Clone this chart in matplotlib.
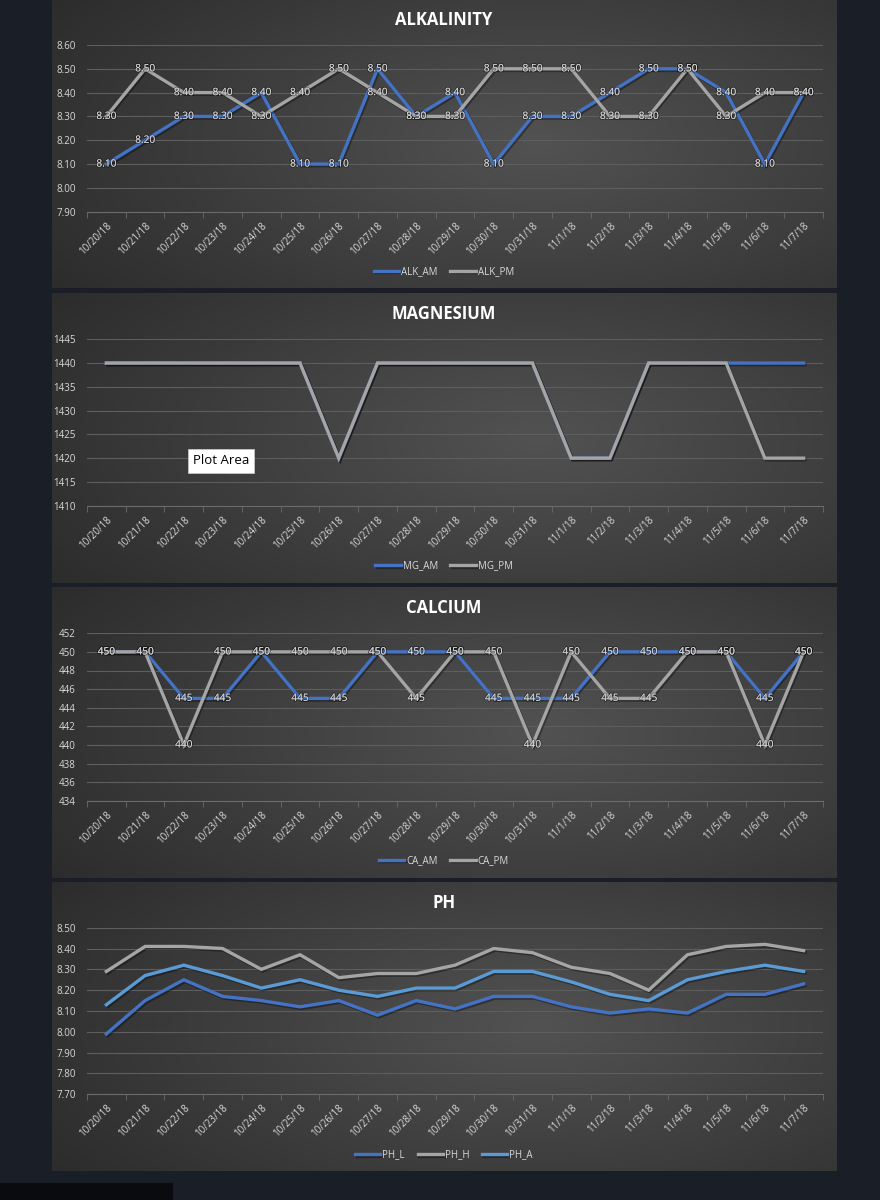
#!/usr/bin/env python3

import numpy as np
import matplotlib
matplotlib.use('Agg')

import matplotlib.pyplot as plt
import matplotlib.patheffects as pe
from matplotlib.patches import Rectangle

plt.rcParams['font.family'] = ['Open Sans', 'DejaVu Sans']

dates = ['10/20/18', '10/21/18', '10/22/18', '10/23/18', '10/24/18', '10/25/18',
         '10/26/18', '10/27/18', '10/28/18', '10/29/18', '10/30/18', '10/31/18',
         '11/1/18', '11/2/18', '11/3/18', '11/4/18', '11/5/18', '11/6/18', '11/7/18']

alk_am = [8.10, 8.20, 8.30, 8.30, 8.40, 8.10, 8.10, 8.50, 8.30, 8.40,
          8.10, 8.30, 8.30, 8.40, 8.50, 8.50, 8.40, 8.10, 8.40]
alk_pm = [8.30, 8.50, 8.40, 8.40, 8.30, 8.40, 8.50, 8.40, 8.30, 8.30,
          8.50, 8.50, 8.50, 8.30, 8.30, 8.50, 8.30, 8.40, 8.40]

mg_am = [1440, 1440, 1440, 1440, 1440, 1440, 1420, 1440, 1440, 1440,
         1440, 1440, 1420, 1420, 1440, 1440, 1440, 1440, 1440]
mg_pm = [1440, 1440, 1440, 1440, 1440, 1440, 1420, 1440, 1440, 1440,
         1440, 1440, 1420, 1420, 1440, 1440, 1440, 1420, 1420]

ca_am = [450, 450, 445, 445, 450, 445, 445, 450, 450, 450,
         445, 445, 445, 450, 450, 450, 450, 445, 450]
ca_pm = [450, 450, 440, 450, 450, 450, 450, 450, 445, 450,
         450, 440, 450, 445, 445, 450, 450, 440, 450]

ph_l = [7.99, 8.15, 8.25, 8.17, 8.15, 8.12, 8.15, 8.08, 8.15, 8.11,
        8.17, 8.17, 8.12, 8.09, 8.11, 8.09, 8.18, 8.18, 8.23]
ph_h = [8.29, 8.41, 8.41, 8.40, 8.30, 8.37, 8.26, 8.28, 8.28, 8.32,
        8.40, 8.38, 8.31, 8.28, 8.20, 8.37, 8.41, 8.42, 8.39]
ph_a = [8.13, 8.27, 8.32, 8.27, 8.21, 8.25, 8.20, 8.17, 8.21, 8.21,
        8.29, 8.29, 8.24, 8.18, 8.15, 8.25, 8.29, 8.32, 8.29]

BLUE = '#4472c4'
GRAY = '#a5a5a5'
LBLUE = '#5b9bd5'
TXT = '#d9d9d9'

W, H = 880, 1200


def rect(x0, y0, x1, y1):
    return [x0 / W, 1 - y1 / H, (x1 - x0) / W, (y1 - y0) / H]


def panel_bg(fig, y0, y1):
    ax = fig.add_axes(rect(52, y0, 836, y1), zorder=0)
    yy, xx = np.mgrid[0:1:120j, 0:1:240j]
    r = np.sqrt(((xx - 0.62) / 0.8) ** 2 + ((yy - 0.5) / 1.0) ** 2)
    v = (0x52 - (0x52 - 0x29) * np.clip(r, 0, 1)) / 255
    ax.imshow(np.dstack([v, v, v]), aspect='auto', extent=[0, 1, 0, 1],
              interpolation='bilinear')
    ax.axis('off')


def chart(fig, box, title, title_y, legend_y, series, ylim, ystep, yfmt, labfmt=None):
    ax = fig.add_axes(rect(*box), zorder=2)
    ax.patch.set_alpha(0)
    x = np.arange(len(dates))
    shadow = [pe.SimpleLineShadow(offset=(1.0, -1.2), shadow_color='black', alpha=0.35),
              pe.Normal()]
    handles = []
    for name, vals, col in series:
        ln, = ax.plot(x, vals, color=col, lw=2.4, label=name,
                      solid_joinstyle='miter', path_effects=shadow)
        handles.append(ln)
    if labfmt:
        for name, vals, col in series:
            for xi, v in zip(x, vals):
                ax.text(xi, v, labfmt % v, ha='center', va='center', fontsize=7.3,
                        color=TXT, zorder=5,
                        path_effects=[pe.withStroke(linewidth=1.5, foreground=(0, 0, 0, 0.3))])
    ax.set_xlim(-0.5, len(dates) - 0.5)
    ax.set_ylim(*ylim)
    yt = np.arange(ylim[0], ylim[1] + ystep / 2, ystep)
    ax.set_yticks(yt)
    ax.set_yticklabels([yfmt % t for t in yt])
    ax.set_xticks(x)
    ax.set_xticklabels(dates, rotation=45, ha='right', va='top', rotation_mode='anchor')
    ax.set_xticks(np.arange(-0.5, len(dates)), minor=True)
    ax.tick_params(axis='both', which='major', length=0, colors=TXT, labelsize=7)
    ax.tick_params(axis='x', which='major', pad=6)
    ax.tick_params(axis='y', which='major', pad=8)
    ax.tick_params(axis='x', which='minor', length=4, color='#6b6b6b')
    for s in ['top', 'right', 'left']:
        ax.spines[s].set_visible(False)
    ax.spines['bottom'].set_color('#6b6b6b')
    ax.yaxis.grid(True, color='#5e5e5e', lw=0.8)
    ax.set_axisbelow(True)
    fig.text(444 / W, 1 - title_y / H, title, ha='center', va='center',
             fontsize=12, fontweight='bold', color='white')
    fig.legend(handles=handles, loc='center', bbox_to_anchor=(444 / W, 1 - legend_y / H),
               ncol=len(handles), frameon=False, fontsize=7, labelcolor=TXT,
               handlelength=2.6, handletextpad=0.2, columnspacing=1.3)
    return ax


def main():
    fig = plt.figure(figsize=(8.8, 12), dpi=100)
    fig.patch.set_facecolor('#1a1e26')

    for y0, y1 in [(0, 288), (293, 583), (587, 878), (882, 1171)]:
        panel_bg(fig, y0, y1)

    fig.patches.append(Rectangle((0, 0), 173 / W, 17 / H, transform=fig.transFigure,
                                 facecolor='#0a0b0e', edgecolor='none', zorder=1))

    chart(fig, (87, 45, 823, 211.7), 'ALKALINITY', 20, 271.5,
          [('ALK_AM', alk_am, BLUE), ('ALK_PM', alk_pm, GRAY)],
          (7.9, 8.6), 0.1, '%.2f', '%.2f')

    chart(fig, (87, 339.3, 823, 505.7), 'MAGNESIUM', 314, 566,
          [('MG_AM', mg_am, BLUE), ('MG_PM', mg_pm, GRAY)],
          (1410, 1445), 5, '%d')

    chart(fig, (87, 633.3, 823, 800.7), 'CALCIUM', 608, 860.5,
          [('CA_AM', ca_am, BLUE), ('CA_PM', ca_pm, GRAY)],
          (434, 452), 2, '%d', '%d')

    chart(fig, (87, 927.7, 823, 1094.3), 'PH', 903, 1155,
          [('PH_L', ph_l, BLUE), ('PH_H', ph_h, GRAY), ('PH_A', ph_a, LBLUE)],
          (7.7, 8.5), 0.1, '%.2f')

    fig.text(221 / W, 1 - 461 / H, 'Plot Area', ha='center', va='center', fontsize=9.5,
             color='black', zorder=10,
             bbox=dict(boxstyle='square,pad=0.4', facecolor='white', edgecolor='#cccccc', lw=0.5))

    plt.savefig('out.png', dpi=100, facecolor=fig.get_facecolor())


if __name__ == "__main__":
    main()
